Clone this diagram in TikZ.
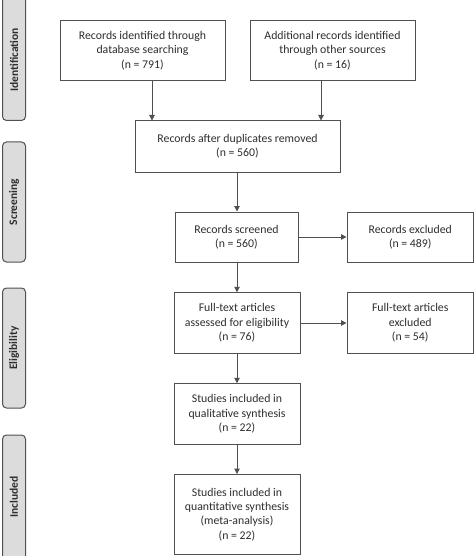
\documentclass[tikz,border=0pt]{standalone}
\usepackage{fontspec}
\setmainfont{Carlito}
\usetikzlibrary{arrows.meta}
\definecolor{linec}{HTML}{505050}
\definecolor{textc}{HTML}{2E2E2E}
\definecolor{sidefill}{HTML}{DCDCDC}
\begin{document}
\begin{tikzpicture}[x=1pt,y=-1pt,
  box/.style={draw=linec,line width=1pt,fill=white,align=center,text=textc,
    font=\fontsize{11.8}{14.3}\selectfont,inner sep=0pt},
  side/.style={draw=linec,line width=1pt,fill=sidefill,rounded corners=4pt},
  sidetext/.style={rotate=90,text=textc,font=\fontsize{11.5}{12}\selectfont\bfseries},
  arr/.style={draw=linec,line width=1pt,-{Triangle[length=5.5pt,width=5.5pt]}}]
\useasboundingbox (0,0) rectangle (474,556);
% side labels
\path[side] (2.5,-6) rectangle (25.5,120.5);
\path[side] (2.5,142) rectangle (25.5,262);
\path[side] (2.5,288) rectangle (25.5,408);
\path[side] (2.5,435) rectangle (25.5,562);
\node[sidetext] (lid) at (14,60) {Identification};
\node[sidetext] (lsc) at (14,202) {Screening};
\node[sidetext] (lel) at (14,348) {Eligibility};
\node[sidetext] (lin) at (14,497) {Included};
% boxes
\node[box,minimum width=165pt,minimum height=60pt] (b1) at (142.5,50.5)
  {Records identified through\\database searching\\(n = 791)};
\node[box,minimum width=165pt,minimum height=60pt] (b2) at (332.5,50.5)
  {Additional records identified\\through other sources\\(n = 16)};
\node[box,minimum width=205pt,minimum height=51pt] (b3) at (237.5,146.5)
  {Records after duplicates removed\\(n = 560)};
\node[box,minimum width=123pt,minimum height=50pt] (b4) at (236.5,237)
  {Records screened\\(n = 560)};
\node[box,minimum width=126.5pt,minimum height=50pt] (b5) at (410.25,237)
  {Records excluded\\(n = 489)};
\node[box,minimum width=126pt,minimum height=60.5pt] (b6) at (237,323)
  {Full-text articles\\assessed for eligibility\\(n = 76)};
\node[box,minimum width=126.5pt,minimum height=60.5pt] (b7) at (410.25,323)
  {Full-text articles\\excluded\\(n = 54)};
\node[box,minimum width=126pt,minimum height=60.5pt] (b8) at (237,414)
  {Studies included in\\qualitative synthesis\\(n = 22)};
\node[box,minimum width=126pt,minimum height=80pt] (b9) at (237,514.5)
  {Studies included in\\quantitative synthesis\\(meta-analysis)\\(n = 22)};
% arrows
\coordinate (xa) at (152,0);
\coordinate (xb) at (321,0);
\coordinate (xc) at (237,0);
\draw[arr] (b1.south -| xa) -- (b3.north -| xa);
\draw[arr] (b2.south -| xb) -- (b3.north -| xb);
\draw[arr] (b3.south -| xc) -- (b4.north -| xc);
\draw[arr] (b4.east) -- (b5.west);
\draw[arr] (b4.south -| xc) -- (b6.north -| xc);
\draw[arr] (b6.east) -- (b7.west);
\draw[arr] (b6.south -| xc) -- (b8.north -| xc);
\draw[arr] (b8.south -| xc) -- (b9.north -| xc);
\end{tikzpicture}
\end{document}
